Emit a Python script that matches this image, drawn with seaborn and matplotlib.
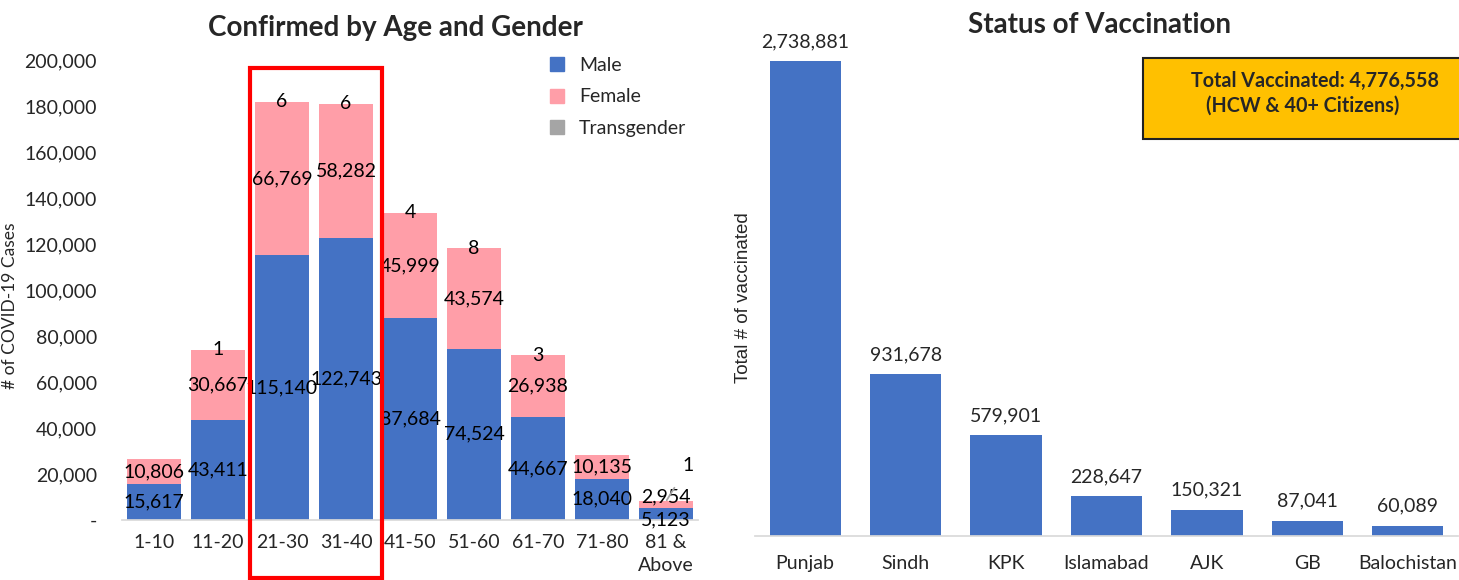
import matplotlib
matplotlib.use("Agg")
import matplotlib.pyplot as plt
import matplotlib.ticker as mticker
from matplotlib.patches import Rectangle
from matplotlib.lines import Line2D
import pandas as pd
import seaborn as sns

# Confirmed cases by age group and gender
age_groups = ["1-10", "11-20", "21-30", "31-40", "41-50", "51-60", "61-70", "71-80", "81 &\nAbove"]
male = [15617, 43411, 115140, 122743, 87684, 74524, 44667, 18040, 5123]
female = [10806, 30667, 66769, 58282, 45999, 43574, 26938, 10135, 2954]
transgender = [0, 1, 6, 6, 4, 8, 3, 0, 1]

# Vaccination status by province
provinces = ["Punjab", "Sindh", "KPK", "Islamabad", "AJK", "GB", "Balochistan"]
vaccinated = [2738881, 931678, 579901, 228647, 150321, 87041, 60089]
total_vaccinated = "4,776,558"

C_MALE = "#4472C4"
C_FEMALE = "#FF9EA8"
C_TRANS = "#A5A5A5"
FONT = "Lato"

sns.set_theme(style="white")
plt.rcParams["font.family"] = [FONT, "DejaVu Sans"]

df = pd.DataFrame({"age": age_groups, "male": male, "female": female, "trans": transgender})
df["mf"] = df["male"] + df["female"]
df["total"] = df["mf"] + df["trans"]

fig = plt.figure(figsize=(14.59, 5.80), dpi=100)
ax1 = fig.add_axes([122 / 1459, 60 / 580, 576 / 1459, 460 / 580])
ax2 = fig.add_axes([755 / 1459, 44 / 580, 703 / 1459, 496 / 580])

# stacked bars: draw cumulative totals from the top down
bar_kw = dict(width=0.84, saturation=1, linewidth=0, ax=ax1)
sns.barplot(data=df, x="age", y="total", color=C_TRANS, **bar_kw)
sns.barplot(data=df, x="age", y="mf", color=C_FEMALE, **bar_kw)
sns.barplot(data=df, x="age", y="male", color=C_MALE, **bar_kw)

lbl = dict(ha="center", va="center", fontsize=14, color="black")
n = len(df)
for i, row in df.iterrows():
    if i == n - 1:
        ax1.annotate(f"{row['male']:,}", (i, row["male"] / 2), xytext=(0, -4), textcoords="offset points", **lbl)
        ax1.annotate(f"{row['female']:,}", (i, row["male"] + row["female"] / 2), xytext=(0, 6), textcoords="offset points", **lbl)
        ax1.annotate(f"{row['trans']:,}", (i, row["total"]), xytext=(16, 26), textcoords="offset points",
                     arrowprops=dict(arrowstyle="-", color="#A5A5A5", lw=1.3, shrinkA=9, shrinkB=1), **lbl)
        continue
    ax1.text(i, row["male"] / 2, f"{row['male']:,}", **lbl)
    ax1.text(i, row["male"] + row["female"] / 2, f"{row['female']:,}", **lbl)
    if row["trans"] > 0:
        ax1.text(i, row["total"], f"{row['trans']:,}", **lbl)

ax1.set_ylim(0, 200000)
ax1.set_xlim(-0.5, n - 0.5)
ax1.yaxis.set_major_locator(mticker.MultipleLocator(20000))
ax1.yaxis.set_major_formatter(mticker.FuncFormatter(lambda v, p: "-" if v == 0 else f"{v:,.0f}"))
ax1.tick_params(axis="y", labelsize=14, pad=18, length=0)
ax1.tick_params(axis="x", labelsize=14, pad=10, length=0)
for t in ax1.get_xticklabels():
    t.set_linespacing(1.45)
ax1.set_xlabel("")
ax1.set_ylabel("# of COVID-19 Cases", fontsize=12.5)
ax1.yaxis.set_label_coords(-0.18, 0.465)
for s in ["top", "right", "left"]:
    ax1.spines[s].set_visible(False)
ax1.spines["bottom"].set_color("#D9D9D9")
ax1.set_title("Confirmed by Age and Gender", fontsize=20, fontweight="bold", x=0.475, pad=17)

handles = [Line2D([], [], marker="s", ls="", color=c, markersize=9.5) for c in (C_MALE, C_FEMALE, C_TRANS)]
ax1.legend(handles, ["Male", "Female", "Transgender"], loc="upper right", bbox_to_anchor=(1.01, 1.045),
           frameon=False, fontsize=14, handletextpad=0.15, labelspacing=0.75)

# highlight box around 21-30 and 31-40
ax1.add_patch(Rectangle((1.5, -25000), 2.06, 221500, fill=False, edgecolor="#FF0000", lw=3, clip_on=False, zorder=5))

# vaccination chart
vdf = pd.DataFrame({"province": provinces, "vaccinated": vaccinated})
sns.barplot(data=vdf, x="province", y="vaccinated", color=C_MALE, width=0.71, saturation=1, linewidth=0, ax=ax2)
ax2.bar_label(ax2.containers[0], labels=[f"{v:,}" for v in vaccinated], padding=8, fontsize=14)
ax2.set_ylim(0, 2860000)
ax2.set_xlim(-0.5, len(provinces) - 0.5)
ax2.set_yticks([])
ax2.set_xlabel("")
ax2.set_ylabel("Total # of vaccinated", fontsize=13.5, family="Liberation Sans")
ax2.yaxis.set_label_coords(-0.004, 0.48)
ax2.tick_params(axis="x", labelsize=14, pad=14, length=0)
for s in ["top", "right", "left"]:
    ax2.spines[s].set_visible(False)
ax2.spines["bottom"].set_color("#D9D9D9")
fig.text(1099 / 1459, 1 - 25 / 580, "Status of Vaccination", ha="center", va="center", fontsize=20, fontweight="bold")

# yellow info box
fig.patches.append(Rectangle((1143 / 1459, 1 - 139 / 580), 330 / 1459, 81 / 580, transform=fig.transFigure,
                             facecolor="#FFC000", edgecolor="#222222", lw=1.5, figure=fig))
fig.text(1315 / 1459, 1 - 81 / 580, f"Total Vaccinated: {total_vaccinated}", ha="center", va="center",
         fontsize=14.2, fontweight="bold")
fig.text(1303 / 1459, 1 - 106 / 580, "(HCW & 40+ Citizens)", ha="center", va="center", fontsize=14.2, fontweight="bold")

fig.savefig("out.png", dpi=100)
